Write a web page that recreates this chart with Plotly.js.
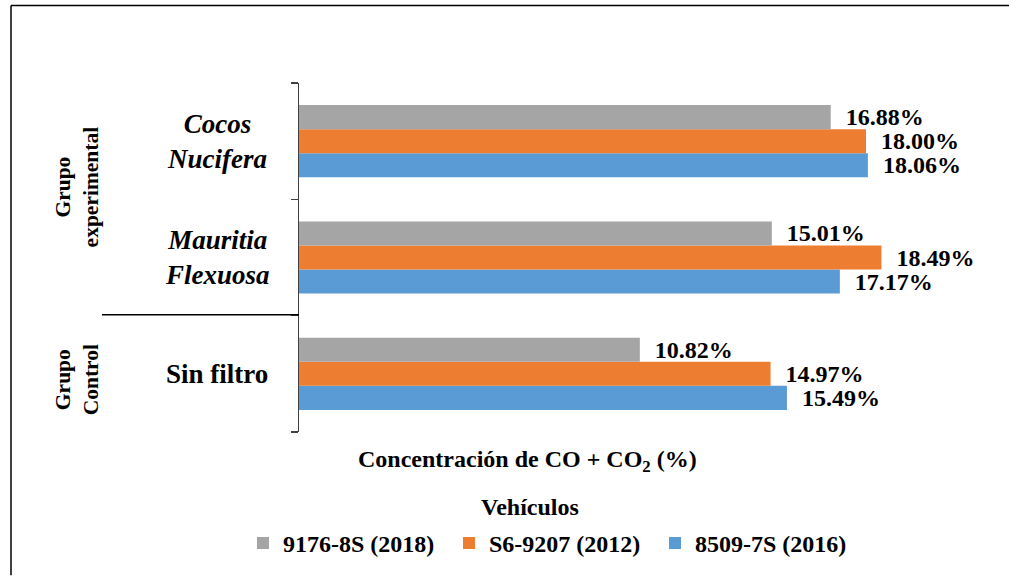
<!DOCTYPE html>
<html>
<head>
<meta charset="utf-8">
<script src="https://cdn.plot.ly/plotly-3.0.1.min.js"></script>
</head>
<body style="margin:0;background:#fff">
<div id="chart" style="width:1009px;height:578px"></div>
<script>
// ---- data ----
const categories = ['Sin filtro', 'Mauritia Flexuosa', 'Cocos Nucifera'];
const categoryLabels = ['Sin filtro', '<i>Mauritia</i><br><i>Flexuosa</i>', '<i>Cocos</i><br><i>Nucifera</i>'];
const seriesNames = ['8509-7S (2016)', 'S6-9207 (2012)', '9176-8S (2018)'];
const blueValues = [15.49, 17.17, 18.06];
const orangeValues = [14.97, 18.49, 18.00];
const grayValues = [10.82, 15.01, 16.88];
const groupLabels = ['Grupo<br>experimental', 'Grupo<br>Control'];
const xTitle = 'Concentración de CO + CO<sub>2</sub> (%)';
const legendTitle = 'Vehículos';

// ---- layout helpers (pixel -> paper) ----
const L = 299, W = 630, T = 83, H = 351, FW = 1009, FH = 578;
const px = v => (v - L) / W;
const py = v => (T + H - v) / H;
const FAM = 'Liberation Serif, serif';

function barTrace(name, values, color) {
  return {
    type: 'bar', orientation: 'h', name: name,
    y: categories, x: values,
    marker: {color: color},
    texttemplate: '\u00a0\u00a0%{x:.2f}%',
    textposition: 'outside',
    constraintext: 'none',
    cliponaxis: false,
    textfont: {family: FAM, size: 24, color: '#000', weight: 'bold'},
    outsidetextfont: {family: FAM, size: 24, color: '#000', weight: 'bold'},
    hoverinfo: 'skip'
  };
}

const data = [
  barTrace(seriesNames[0], blueValues, '#5B9BD5'),
  barTrace(seriesNames[1], orangeValues, '#ED7D31'),
  barTrace(seriesNames[2], grayValues, '#A5A5A5')
];

const annotations = [];
categories.forEach((c, i) => {
  annotations.push({
    xref: 'paper', yref: 'y', x: px(217), y: c, text: categoryLabels[i],
    showarrow: false, xanchor: 'center', yanchor: 'middle', align: 'center',
    font: {family: FAM, size: 27, color: '#000', weight: 'bold'}
  });
});
annotations.push({
  xref: 'paper', yref: 'paper', x: px(77), y: py(187), text: groupLabels[0],
  textangle: -90, showarrow: false, xanchor: 'center', yanchor: 'middle', align: 'center',
  font: {family: FAM, size: 21.5, color: '#000', weight: 'bold'}
});
annotations.push({
  xref: 'paper', yref: 'paper', x: px(77), y: py(381), text: groupLabels[1],
  textangle: -90, showarrow: false, xanchor: 'center', yanchor: 'middle', align: 'center',
  font: {family: FAM, size: 21.5, color: '#000', weight: 'bold'}
});
annotations.push({
  xref: 'paper', yref: 'paper', x: px(527), y: py(463), text: xTitle,
  showarrow: false, xanchor: 'center', yanchor: 'middle',
  font: {family: FAM, size: 24, color: '#000', weight: 'bold'}
});
annotations.push({
  xref: 'paper', yref: 'paper', x: px(530), y: py(509), text: legendTitle,
  showarrow: false, xanchor: 'center', yanchor: 'middle',
  font: {family: FAM, size: 24, color: '#000', weight: 'bold'}
});

const layout = {
  width: FW, height: FH,
  margin: {l: L, r: FW - L - W, t: T, b: FH - T - H, pad: 0},
  paper_bgcolor: '#fff', plot_bgcolor: '#fff',
  font: {family: FAM, color: '#000', size: 22},
  barmode: 'group', bargap: 0.38, bargroupgap: 0,
  xaxis: {range: [0, 20], visible: false, fixedrange: true},
  yaxis: {
    type: 'category', categoryorder: 'array', categoryarray: categories,
    range: [-0.5, 2.5], showticklabels: false, showgrid: false, zeroline: false,
    showline: true, linecolor: '#404040', linewidth: 1.5,
    ticks: 'outside', tickson: 'boundaries', ticklen: 7, tickcolor: '#404040', tickwidth: 1.5,
    fixedrange: true
  },
  showlegend: true,
  legend: {
    orientation: 'h', traceorder: 'reversed',
    x: px(243), xanchor: 'left', y: py(546), yanchor: 'middle',
    entrywidth: 161, entrywidthmode: 'pixels',
    font: {family: FAM, size: 24, color: '#000', weight: 'bold'},
    bgcolor: 'rgba(0,0,0,0)', itemclick: false, itemdoubleclick: false
  },
  annotations: annotations,
  shapes: [
    {type: 'line', xref: 'paper', yref: 'paper', x0: px(102), x1: 0, y0: py(316), y1: py(316), line: {color: '#000', width: 1.5}},
    {type: 'line', xref: 'paper', yref: 'paper', x0: px(11), x1: px(1009), y0: py(5), y1: py(5), line: {color: '#000', width: 1.5}},
    {type: 'line', xref: 'paper', yref: 'paper', x0: px(11), x1: px(11), y0: py(5), y1: py(578), line: {color: '#000', width: 1.5}}
  ]
};

Plotly.newPlot('chart', data, layout, {staticPlot: true});
</script>
</body>
</html>
